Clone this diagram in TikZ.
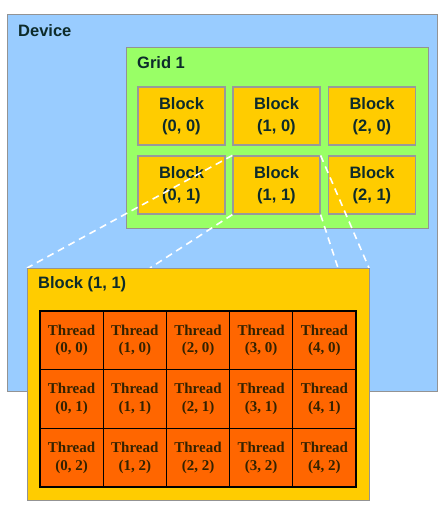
\documentclass[tikz,border=0pt]{standalone}
\usepackage{fontspec}
\setmainfont{Liberation Serif}
\setsansfont{Liberation Sans}
\usepackage{tikz}
\usetikzlibrary{positioning}

\definecolor{devblue}{HTML}{99CCFF}
\definecolor{gridgreen}{HTML}{99FF66}
\definecolor{blockgold}{HTML}{FFCC00}
\definecolor{threadorange}{HTML}{FF6600}
\definecolor{labeldark}{HTML}{0D2B2B}
\definecolor{threadtext}{HTML}{332200}

\tikzset{
    box/.style={draw=gray!85, line width=1.2pt, anchor=north west, inner sep=0pt},
    title/.style={anchor=north west, inner sep=0pt, text=labeldark,
        font=\sffamily\bfseries\fontsize{16.5}{19}\selectfont},
    block/.style={draw=gray!80, line width=1.2pt, fill=blockgold, minimum width=87pt,
        minimum height=58pt, inner sep=0pt, align=center, text=labeldark,
        font=\sffamily\bfseries\fontsize{16.5}{22}\selectfont},
    thread/.style={draw=black, line width=1.3pt, fill=threadorange, minimum width=63.2pt,
        minimum height=58.7pt, inner sep=0pt, align=center, text=threadtext,
        font=\rmfamily\bfseries\fontsize{15}{17.5}\selectfont},
    proj/.style={draw=white, line width=1.6pt, dash pattern=on 7pt off 5pt}
}

\begin{document}
\begin{tikzpicture}[x=1pt, y=-1pt]
    \useasboundingbox (0,0) rectangle (442,506);
    % device and grid
    \node[box, fill=devblue, minimum width=430pt, minimum height=377pt](device) at (7,14) {};
    \node[title](devlabel) at (18,24) {Device};
    \node[box, fill=gridgreen, minimum width=302pt, minimum height=181pt](grid) at (126,47) {};
    \node[title](gridlabel) at (137,56) {Grid 1};
    % blocks of the grid
    \node[block](b00) at (181.5,116) {Block\\(0, 0)};
    \node[block](b10) at (276.5,116) {Block\\(1, 0)};
    \node[block](b20) at (372,116)   {Block\\(2, 0)};
    \node[block](b01) at (181.5,185) {Block\\(0, 1)};
    \node[block](b11) at (276.5,185) {Block\\(1, 1)};
    \node[block](b21) at (372,185)   {Block\\(2, 1)};
    % where the projection meets the big block
    \coordinate (pa) at (27,268);
    \coordinate (pb) at (150,268);
    \coordinate (pc) at (338,268);
    \coordinate (pd) at (369,268);
    \path
        (b11.north west) edge [proj] (pa)
        (b11.south west) edge [proj] (pb)
        (b11.south east) edge [proj] (pc)
        (b11.north east) edge [proj] (pd)
        ;
    % block (1, 1) in detail
    \node[box, fill=blockgold, minimum width=342pt, minimum height=232pt](bigblock) at (27,268) {};
    \node[title](biglabel) at (38,276) {Block (1, 1)};
    \node[thread](t00) at (71.6,340.3)  {Thread\\(0, 0)};
    \node[thread](t10) at (134.8,340.3) {Thread\\(1, 0)};
    \node[thread](t20) at (198,340.3)   {Thread\\(2, 0)};
    \node[thread](t30) at (261.2,340.3) {Thread\\(3, 0)};
    \node[thread](t40) at (324.4,340.3) {Thread\\(4, 0)};
    \node[thread](t01) at (71.6,399)    {Thread\\(0, 1)};
    \node[thread](t11) at (134.8,399)   {Thread\\(1, 1)};
    \node[thread](t21) at (198,399)     {Thread\\(2, 1)};
    \node[thread](t31) at (261.2,399)   {Thread\\(3, 1)};
    \node[thread](t41) at (324.4,399)   {Thread\\(4, 1)};
    \node[thread](t02) at (71.6,457.7)  {Thread\\(0, 2)};
    \node[thread](t12) at (134.8,457.7) {Thread\\(1, 2)};
    \node[thread](t22) at (198,457.7)   {Thread\\(2, 2)};
    \node[thread](t32) at (261.2,457.7) {Thread\\(3, 2)};
    \node[thread](t42) at (324.4,457.7) {Thread\\(4, 2)};
\end{tikzpicture}
\end{document}
